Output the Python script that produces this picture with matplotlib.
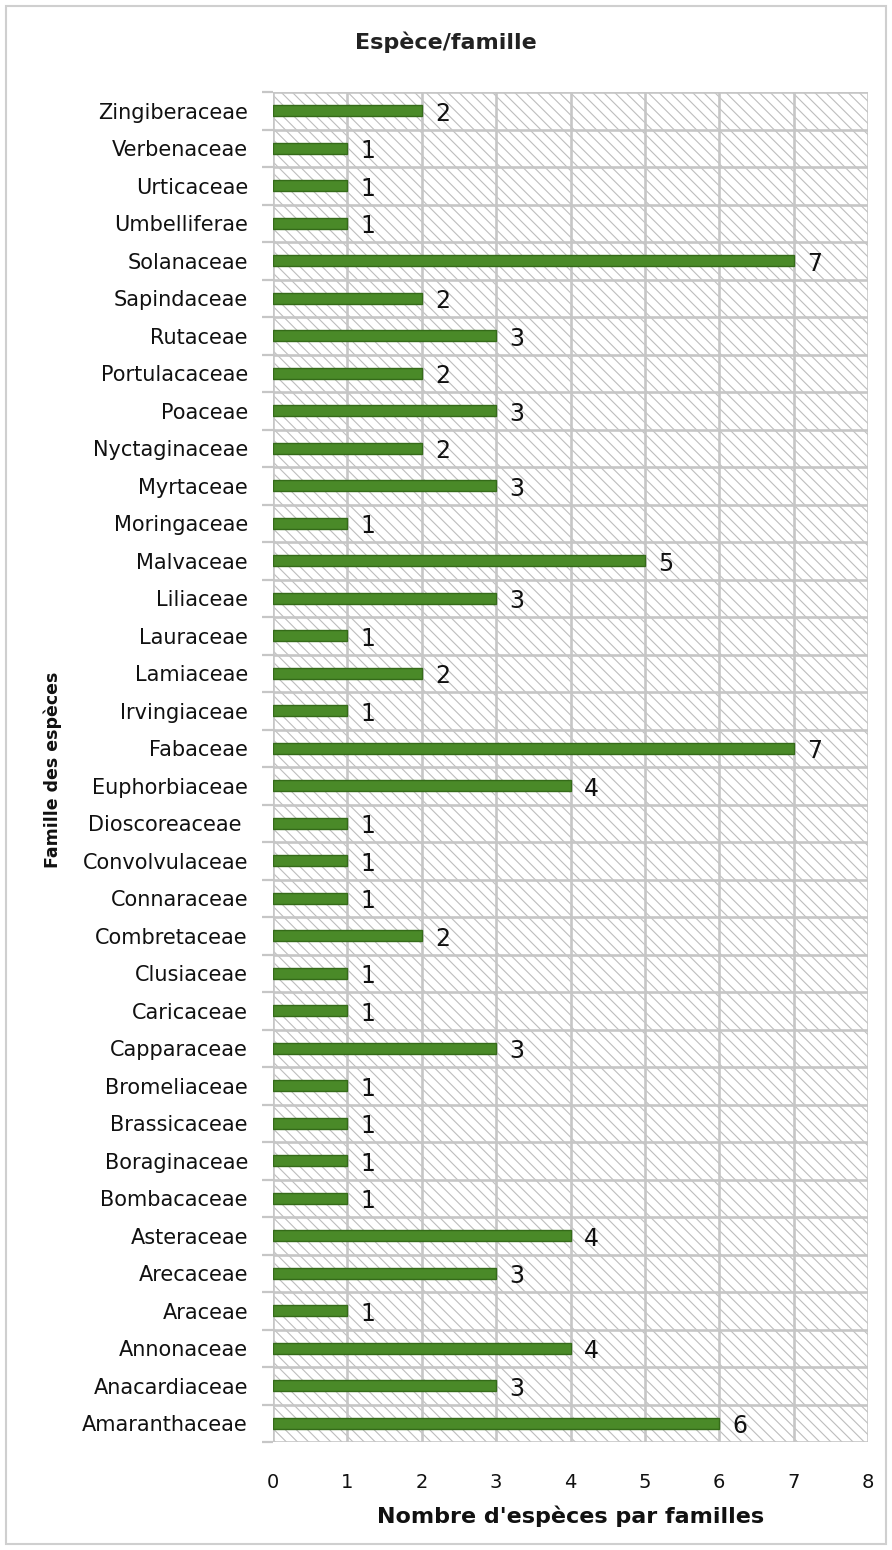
import matplotlib
matplotlib.use("Agg")
import matplotlib.pyplot as plt
from matplotlib.patches import Rectangle
import numpy as np

families = ["Amaranthaceae", "Anacardiaceae", "Annonaceae", "Araceae", "Arecaceae",
            "Asteraceae", "Bombacaceae", "Boraginaceae", "Brassicaceae", "Bromeliaceae",
            "Capparaceae", "Caricaceae", "Clusiaceae", "Combretaceae", "Connaraceae",
            "Convolvulaceae", "Dioscoreaceae ", "Euphorbiaceae", "Fabaceae", "Irvingiaceae",
            "Lamiaceae", "Lauraceae", "Liliaceae", "Malvaceae", "Moringaceae",
            "Myrtaceae", "Nyctaginaceae", "Poaceae", "Portulacaceae", "Rutaceae",
            "Sapindaceae", "Solanaceae", "Umbelliferae", "Urticaceae", "Verbenaceae",
            "Zingiberaceae"]
counts = [6, 3, 4, 1, 3, 4, 1, 1, 1, 1, 3, 1, 1, 2, 1, 1, 1, 4, 7, 1,
          2, 1, 3, 5, 1, 3, 2, 3, 2, 3, 2, 7, 1, 1, 1, 2]
x_ticks = [0, 1, 2, 3, 4, 5, 6, 7, 8]
title = "Espèce/famille"
xlabel = "Nombre d'espèces par familles"
ylabel = "Famille des espèces"

plt.rcParams['font.family'] = ['DejaVu Sans']
plt.rcParams['hatch.linewidth'] = 0.8

W, H = 892, 1550
fig = plt.figure(figsize=(W / 100, H / 100), dpi=100)
x0, x1, ytop, ybot = 273, 868, 92, 1442
ax = fig.add_axes([x0 / W, (H - ybot) / H, (x1 - x0) / W, (ybot - ytop) / H])

grid_c = "#c6c6c6"
n = len(families)
y = np.arange(n)

# hatched background
ax.add_patch(Rectangle((0, 0), 1, 1, transform=ax.transAxes, facecolor="white",
                       edgecolor="#bdbdbd", hatch="\\\\\\", linewidth=0, zorder=0))

ax.set_xlim(0, 8)
ax.set_ylim(-0.5, n - 0.5)

for xv in x_ticks:
    ax.axvline(xv, color=grid_c, lw=1.9, zorder=1)
for b in np.arange(-0.5, n, 1.0):
    ax.axhline(b, color=grid_c, lw=1.9, zorder=1)

ax.barh(y, counts, height=0.3, color="#4a8a28", edgecolor="#356b19", linewidth=1.0, zorder=3)

for yi, v in zip(y, counts):
    ax.text(v + 0.18, yi - 0.08, str(v), va="center", ha="left", fontsize=17,
            color="#111111", zorder=4)

for s in ax.spines.values():
    s.set_visible(False)

ax.set_yticks(y)
ax.set_yticklabels(families, fontsize=15, color="#111111")
ax.tick_params(axis="y", which="major", length=0, pad=18)
ax.set_yticks(np.arange(-0.5, n, 1.0), minor=True)
ax.tick_params(axis="y", which="minor", length=8, width=1.6, color=grid_c)

ax.set_xticks(x_ticks)
ax.set_xticklabels([str(t) for t in x_ticks], fontsize=14, color="#111111")
ax.tick_params(axis="x", length=0, pad=22)

ax.set_xlabel(xlabel, fontsize=16, fontweight="bold", color="#111111", labelpad=10)
fig.text(53 / W, 1 - 770 / H, ylabel, rotation=90, ha="center", va="center",
         fontsize=12.5, fontweight="bold", color="#111111")
fig.text(0.5, 1 - 42 / H, title, ha="center", va="center", fontsize=16,
         fontweight="bold", color="#222222")

fig.patches.append(Rectangle((6 / W, 6 / H), (W - 12) / W, (H - 12) / H,
                             transform=fig.transFigure, fill=False,
                             edgecolor="#cfcfcf", linewidth=1.5))

fig.savefig("out.png", dpi=100)
